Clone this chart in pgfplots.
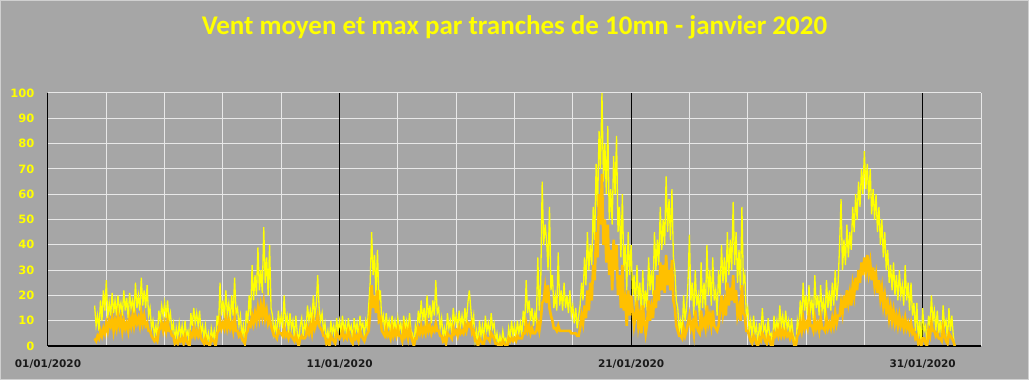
\documentclass[border=0pt]{standalone}
\usepackage{pgfplots}
\usepackage{pgfplotstable}
\pgfplotsset{compat=1.18}
\usepackage{fontspec}
\newfontfamily\tickfont{DejaVu Sans}
\newfontfamily\titlefont{Carlito}
\definecolor{bg}{HTML}{A6A6A6}
\definecolor{bgborder}{HTML}{D0D0D0}
\definecolor{gridc}{HTML}{E8E8E8}
\definecolor{yel}{HTML}{FFFF00}
\definecolor{org}{HTML}{FFC000}
\definecolor{lab}{HTML}{1A1A1A}
\pgfplotstableread[row sep=\\]{
d mx mo\\
1.60 16 3\\ 1.65 8 2\\ 1.70 12 4\\ 1.75 6 3\\ 1.80 18 6\\ 1.85 10 4\\ 1.90 22 7\\ 1.95 14 5\\
2.00 26 9\\ 2.05 11 6\\ 2.10 17 10\\ 2.15 12 8\\ 2.20 21 11\\ 2.25 13 6\\ 2.30 18 10\\ 2.35 12 7\\ 2.40 20 12\\ 2.45 14 8\\
2.50 17 11\\ 2.55 12 6\\ 2.60 22 10\\ 2.65 14 7\\ 2.70 19 9\\ 2.75 11 6\\ 2.80 21 11\\ 2.85 15 8\\ 2.90 18 12\\ 2.95 13 8\\
3.00 25 12\\ 3.05 15 9\\ 3.10 20 11\\ 3.15 14 8\\ 3.20 27 13\\ 3.25 16 9\\ 3.30 22 12\\ 3.35 15 8\\ 3.40 24 9\\ 3.45 12 6\\
3.50 15 6\\ 3.55 7 4\\ 3.60 10 3\\ 3.65 4 2\\ 3.70 8 3\\ 3.75 3 2\\ 3.80 14 6\\ 3.85 10 7\\ 3.90 16 9\\ 3.95 12 6\\
4.00 17 9\\ 4.05 11 6\\ 4.10 18 10\\ 4.15 10 6\\ 4.20 13 6\\ 4.25 6 4\\ 4.30 9 4\\ 4.35 2 1\\ 4.40 7 2\\ 4.45 3 1\\
4.50 9 3\\ 4.55 4 2\\ 4.60 8 3\\ 4.65 2 1\\ 4.70 10 4\\ 4.75 4 2\\ 4.80 6 1\\ 4.85 0 0\\ 4.90 13 5\\ 4.95 8 4\\
5.00 15 7\\ 5.05 9 4\\ 5.10 13 6\\ 5.15 8 4\\ 5.20 14 6\\ 5.25 5 3\\ 5.30 8 2\\ 5.35 3 1\\ 5.40 8 3\\ 5.45 2 1\\
5.50 5 1\\ 5.55 0 0\\ 5.60 7 3\\ 5.65 3 2\\ 5.70 6 2\\ 5.75 0 0\\ 5.80 12 5\\ 5.85 8 6\\ 5.90 25 10\\ 5.95 12 7\\
6.00 18 9\\ 6.05 11 7\\ 6.10 22 11\\ 6.15 13 7\\ 6.20 17 10\\ 6.25 10 7\\ 6.30 20 9\\ 6.35 12 6\\ 6.40 27 11\\ 6.45 13 6\\
6.50 15 6\\ 6.55 8 4\\ 6.60 12 5\\ 6.65 4 3\\ 6.70 8 2\\ 6.75 0 1\\ 6.80 14 5\\ 6.85 9 6\\ 6.90 20 9\\ 6.95 12 8\\
7.00 32 12\\ 7.05 18 9\\ 7.10 28 13\\ 7.15 20 10\\ 7.20 39 15\\ 7.25 22 11\\ 7.30 30 16\\ 7.35 21 12\\ 7.40 47 17\\ 7.45 25 11\\
7.50 35 14\\ 7.55 20 9\\ 7.60 40 11\\ 7.65 15 8\\ 7.70 12 6\\ 7.75 5 4\\ 7.80 9 4\\ 7.85 4 3\\ 7.90 14 6\\ 7.95 8 5\\
8.00 12 5\\ 8.05 7 4\\ 8.10 20 7\\ 8.15 9 4\\ 8.20 12 5\\ 8.25 5 3\\ 8.30 13 5\\ 8.35 7 4\\ 8.40 10 3\\ 8.45 3 2\\
8.50 12 4\\ 8.55 5 2\\ 8.60 2 0\\ 8.65 8 3\\ 8.70 11 4\\ 8.75 4 3\\ 8.80 9 3\\ 8.85 6 4\\ 8.90 16 7\\ 8.95 10 5\\
9.00 14 8\\ 9.05 9 5\\ 9.10 20 10\\ 9.15 12 7\\ 9.20 16 9\\ 9.25 28 12\\ 9.30 15 8\\ 9.35 10 7\\ 9.40 13 6\\ 9.45 6 4\\
9.50 9 4\\ 9.55 2 1\\ 9.60 6 2\\ 9.65 1 0\\ 9.70 10 4\\ 9.75 5 3\\ 9.80 8 2\\ 9.85 3 1\\ 9.90 11 5\\ 9.95 6 4\\
10.00 10 3\\ 10.05 5 4\\ 10.10 12 6\\ 10.15 6 3\\ 10.20 9 4\\ 10.25 3 3\\ 10.30 11 6\\ 10.35 6 4\\ 10.40 8 2\\ 10.45 2 1\\
10.50 11 5\\ 10.55 6 3\\ 10.60 9 4\\ 10.65 3 2\\ 10.70 12 6\\ 10.75 7 4\\ 10.80 9 3\\ 10.85 4 2\\ 10.90 10 4\\ 10.95 7 5\\
11.00 16 6\\ 11.05 25 14\\ 11.10 45 24\\ 11.15 28 15\\ 11.20 36 20\\ 11.25 20 13\\ 11.30 38 22\\ 11.35 18 10\\ 11.40 22 11\\ 11.45 9 6\\
11.50 12 5\\ 11.55 6 4\\ 11.60 13 7\\ 11.65 7 4\\ 11.70 10 5\\ 11.75 5 3\\ 11.80 12 7\\ 11.85 7 4\\ 11.90 10 6\\ 11.95 5 4\\
12.00 11 7\\ 12.05 6 4\\ 12.10 9 4\\ 12.15 4 2\\ 12.20 12 7\\ 12.25 7 4\\ 12.30 10 6\\ 12.35 5 3\\ 12.40 13 7\\ 12.45 6 4\\
12.50 5 2\\ 12.55 0 0\\ 12.60 8 3\\ 12.65 4 3\\ 12.70 14 7\\ 12.75 9 5\\ 12.80 18 8\\ 12.85 10 5\\ 12.90 15 7\\ 12.95 8 5\\
13.00 20 9\\ 13.05 11 6\\ 13.10 16 8\\ 13.15 9 5\\ 13.20 18 7\\ 13.25 12 6\\ 13.30 26 9\\ 13.35 13 6\\ 13.40 15 6\\ 13.45 7 4\\
13.50 11 4\\ 13.55 4 2\\ 13.60 7 3\\ 13.65 2 1\\ 13.70 13 5\\ 13.75 7 4\\ 13.80 10 4\\ 13.85 5 3\\ 13.90 15 7\\ 13.95 9 5\\
14.00 12 6\\ 14.05 7 4\\ 14.10 14 7\\ 14.15 8 5\\ 14.20 12 6\\ 14.25 7 5\\ 14.30 15 8\\ 14.35 9 6\\ 14.40 17 9\\ 14.45 22 8\\
14.50 15 9\\ 14.55 8 5\\ 14.60 12 6\\ 14.65 2 2\\ 14.70 6 2\\ 14.75 0 0\\ 14.80 10 3\\ 14.85 4 2\\ 14.90 8 1\\ 14.95 2 1\\
15.00 12 4\\ 15.05 6 3\\ 15.10 9 3\\ 15.15 4 2\\ 15.20 13 5\\ 15.25 7 4\\ 15.30 9 3\\ 15.35 2 1\\ 15.40 5 1\\ 15.45 0 0\\
15.50 4 1\\ 15.55 1 0\\ 15.60 6 2\\ 15.65 2 1\\ 15.70 3 0\\ 15.75 0 0\\ 15.80 7 3\\ 15.85 3 2\\ 15.90 10 3\\ 15.95 4 2\\
16.00 8 3\\ 16.05 3 2\\ 16.10 10 4\\ 16.15 5 3\\ 16.20 9 3\\ 16.25 4 3\\ 16.30 14 5\\ 16.35 8 5\\ 16.40 26 9\\ 16.45 13 6\\
16.50 18 8\\ 16.55 10 5\\ 16.60 15 7\\ 16.65 8 5\\ 16.70 13 5\\ 16.75 10 6\\ 16.80 35 9\\ 16.85 14 6\\ 16.90 25 10\\ 16.95 65 17\\
17.00 40 18\\ 17.05 48 23\\ 17.10 42 17\\ 17.15 30 24\\ 17.20 55 15\\ 17.25 22 12\\ 17.30 28 10\\ 17.35 15 7\\ 17.40 20 7\\ 17.45 14 6\\
17.50 37 8\\ 17.55 16 6\\ 17.60 22 6\\ 17.65 14 6\\ 17.70 25 6\\ 17.75 15 6\\ 17.80 20 6\\ 17.85 13 6\\ 17.90 22 6\\ 17.95 12 5\\
18.00 16 5\\ 18.05 9 5\\ 18.10 15 5\\ 18.15 7 4\\ 18.20 12 4\\ 18.25 16 7\\ 18.30 25 12\\ 18.35 18 9\\ 18.40 35 16\\ 18.45 24 11\\
18.50 45 22\\ 18.55 30 14\\ 18.60 40 25\\ 18.65 32 18\\ 18.70 55 32\\ 18.75 42 26\\ 18.80 72 45\\ 18.85 55 35\\ 18.90 85 60\\ 18.95 70 48\\
19.00 100 68\\ 19.05 65 40\\ 19.10 80 50\\ 19.15 60 33\\ 19.20 87 48\\ 19.25 50 28\\ 19.30 62 38\\ 19.35 48 22\\ 19.40 75 42\\ 19.45 60 30\\
19.50 83 40\\ 19.55 45 20\\ 19.60 55 28\\ 19.65 35 15\\ 19.70 60 32\\ 19.75 30 14\\ 19.80 40 18\\ 19.85 22 8\\ 19.90 45 22\\ 19.95 28 12\\
20.00 40 20\\ 20.05 20 14\\ 20.10 28 8\\ 20.15 15 12\\ 20.20 32 18\\ 20.25 18 8\\ 20.30 25 12\\ 20.35 12 5\\ 20.40 30 16\\ 20.45 15 10\\
20.50 22 5\\ 20.55 14 9\\ 20.60 35 18\\ 20.65 22 10\\ 20.70 30 15\\ 20.75 20 11\\ 20.80 45 22\\ 20.85 30 15\\ 20.90 42 28\\ 20.95 32 18\\
21.00 55 33\\ 21.05 38 22\\ 21.10 50 32\\ 21.15 40 21\\ 21.20 67 36\\ 21.25 45 24\\ 21.30 58 30\\ 21.35 42 22\\ 21.40 62 34\\ 21.45 35 18\\
21.50 30 15\\ 21.55 18 8\\ 21.60 15 6\\ 21.65 6 4\\ 21.70 10 4\\ 21.75 4 3\\ 21.80 20 7\\ 21.85 10 4\\ 21.90 15 6\\ 21.95 25 9\\
22.00 44 12\\ 22.05 18 7\\ 22.10 25 9\\ 22.15 12 5\\ 22.20 30 14\\ 22.25 16 8\\ 22.30 20 6\\ 22.35 10 5\\ 22.40 33 14\\ 22.45 15 8\\
22.50 25 10\\ 22.55 14 7\\ 22.60 40 16\\ 22.65 20 9\\ 22.70 30 12\\ 22.75 16 8\\ 22.80 35 14\\ 22.85 18 8\\ 22.90 22 7\\ 22.95 12 6\\
23.00 30 8\\ 23.05 20 14\\ 23.10 40 20\\ 23.15 25 13\\ 23.20 35 17\\ 23.25 22 12\\ 23.30 45 25\\ 23.35 28 16\\ 23.40 42 23\\ 23.45 30 18\\
23.50 57 28\\ 23.55 32 17\\ 23.60 45 22\\ 23.65 25 12\\ 23.70 38 15\\ 23.75 22 10\\ 23.80 55 24\\ 23.85 25 13\\ 23.90 28 12\\ 23.95 12 6\\
24.00 15 6\\ 24.05 6 4\\ 24.10 10 2\\ 24.15 3 1\\ 24.20 12 4\\ 24.25 5 3\\ 24.30 8 1\\ 24.35 0 0\\ 24.40 9 3\\ 24.45 4 2\\
24.50 15 5\\ 24.55 6 4\\ 24.60 8 2\\ 24.65 2 1\\ 24.70 11 4\\ 24.75 4 3\\ 24.80 5 0\\ 24.85 0 0\\ 24.90 12 5\\ 24.95 6 4\\
25.00 10 6\\ 25.05 5 4\\ 25.10 16 7\\ 25.15 8 4\\ 25.20 12 6\\ 25.25 6 4\\ 25.30 14 6\\ 25.35 7 4\\ 25.40 10 5\\ 25.45 4 3\\
25.50 11 5\\ 25.55 5 3\\ 25.60 3 0\\ 25.65 0 0\\ 25.70 10 4\\ 25.75 6 5\\ 25.80 18 9\\ 25.85 10 6\\ 25.90 25 11\\ 25.95 14 7\\
26.00 20 9\\ 26.05 12 7\\ 26.10 24 13\\ 26.15 14 8\\ 26.20 18 8\\ 26.25 10 6\\ 26.30 28 11\\ 26.35 15 7\\ 26.40 20 9\\ 26.45 12 6\\
26.50 24 11\\ 26.55 14 7\\ 26.60 18 7\\ 26.65 10 6\\ 26.70 26 11\\ 26.75 15 7\\ 26.80 22 9\\ 26.85 14 7\\ 26.90 25 11\\ 26.95 16 8\\
27.00 30 13\\ 27.05 18 9\\ 27.10 25 12\\ 27.15 40 12\\ 27.20 58 17\\ 27.25 30 13\\ 27.30 42 20\\ 27.35 32 15\\ 27.40 48 22\\ 27.45 35 17\\
27.50 45 21\\ 27.55 38 16\\ 27.60 55 24\\ 27.65 45 20\\ 27.70 60 27\\ 27.75 50 22\\ 27.80 65 30\\ 27.85 55 25\\ 27.90 70 33\\ 27.95 60 28\\
28.00 77 35\\ 28.05 62 30\\ 28.10 72 36\\ 28.15 58 29\\ 28.20 70 33\\ 28.25 52 26\\ 28.30 62 31\\ 28.35 50 24\\ 28.40 60 28\\ 28.45 45 21\\
28.50 55 26\\ 28.55 40 19\\ 28.60 50 23\\ 28.65 35 16\\ 28.70 45 20\\ 28.75 30 14\\ 28.80 38 17\\ 28.85 25 11\\ 28.90 32 15\\ 28.95 22 10\\
29.00 33 14\\ 29.05 20 9\\ 29.10 28 12\\ 29.15 18 8\\ 29.20 30 12\\ 29.25 20 8\\ 29.30 24 10\\ 29.35 16 7\\ 29.40 32 11\\ 29.45 18 7\\
29.50 25 9\\ 29.55 14 6\\ 29.60 25 9\\ 29.65 12 5\\ 29.70 17 6\\ 29.75 6 3\\ 29.80 17 4\\ 29.85 2 1\\ 29.90 10 2\\ 29.95 0 0\\
30.00 15 3\\ 30.05 6 3\\ 30.10 8 1\\ 30.15 0 0\\ 30.20 12 6\\ 30.25 8 4\\ 30.30 20 9\\ 30.35 10 6\\ 30.40 14 6\\ 30.45 6 4\\
30.50 14 5\\ 30.55 5 3\\ 30.60 10 3\\ 30.65 3 2\\ 30.70 16 7\\ 30.75 8 4\\ 30.80 10 2\\ 30.85 2 1\\ 30.90 15 5\\ 30.95 6 4\\
31.00 12 3\\ 31.05 4 2\\ 31.10 0 0\\
}\wind
\begin{document}
\begin{tikzpicture}
\fill[bg] (0,0) rectangle (1029pt,380pt);
\draw[bgborder, line width=1pt] (0.5pt,0.5pt) rectangle (1028.5pt,379.5pt);
\begin{axis}[
  at={(48pt,34pt)}, anchor=south west,
  scale only axis, width=933pt, height=253pt,
  xmin=0, xmax=32, ymin=0, ymax=100,
  axis x line*=bottom, axis y line*=left,
  x axis line style={black, line width=2pt},
  y axis line style={black, line width=1pt},
  major tick length=0pt,
  xtick={2,4,6,8,12,14,16,18,22,24,26,28,32},
  xticklabels={},
  extra x ticks={0,10,20,30},
  extra x tick labels={01/01/2020,11/01/2020,21/01/2020,31/01/2020},
  extra x tick style={major grid style={black, line width=1pt}},
  ytick={0,10,...,100},
  xmajorgrids, ymajorgrids,
  major grid style={gridc, line width=1pt},
  /pgf/number format/assume math mode=true,
  yticklabel style={font=\tickfont\bfseries\fontsize{11.5}{13}\selectfont, text=yel, xshift=-10pt},
  xticklabel style={font=\tickfont\bfseries\fontsize{10.5}{12}\selectfont, text=lab, yshift=-10pt},
]
\addplot[yel, line width=1.3pt, no marks] table[x=d, y=mx] {\wind};
\addplot[org, line width=2.6pt, no marks] table[x=d, y=mo] {\wind};
\end{axis}
\node[font=\titlefont\bfseries\fontsize{27}{32}\selectfont, text=yel] at (514.5pt,353pt) {Vent moyen et max par tranches de 10mn - janvier 2020};
\end{tikzpicture}
\end{document}
